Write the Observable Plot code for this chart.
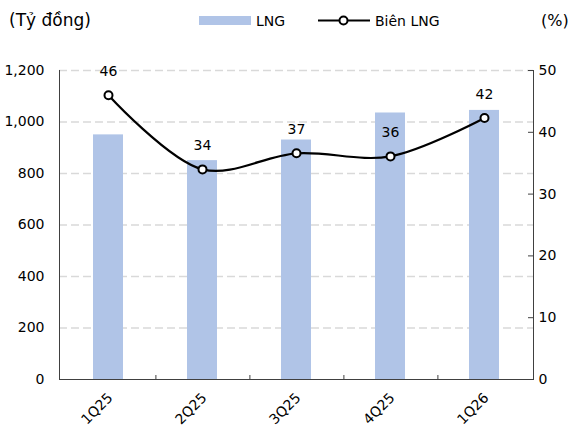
<!DOCTYPE html>
<html>
<head>
<meta charset="utf-8">
<script src="https://cdn.jsdelivr.net/npm/d3@7"></script>
<script src="https://cdn.jsdelivr.net/npm/@observablehq/plot@0.6"></script>
<style>
  body { margin: 0; background: #fff; font-family: "DejaVu Sans", sans-serif; }
  #wrap { position: relative; width: 571px; height: 427px; overflow: hidden; }
  .t { position: absolute; color: #000; white-space: nowrap; line-height: 1; }
  #chart { position: absolute; left: 0; top: 0; }
</style>
</head>
<body>
<div id="wrap">
  <div id="chart"></div>
  <div class="t" style="left:9px;top:12px;font-size:17px;">(Tỷ đồng)</div>
  <div style="position:absolute;left:199px;top:16px;width:52px;height:9px;background:#b0c4e7;"></div>
  <div class="t" style="left:256px;top:14px;font-size:14px;">LNG</div>
  <svg style="position:absolute;left:315px;top:12px;" width="58" height="18">
    <line x1="3" y1="8.5" x2="55" y2="8.5" stroke="#000" stroke-width="2.2"/>
    <circle cx="28.5" cy="8.5" r="4" fill="#fff" stroke="#000" stroke-width="2"/>
  </svg>
  <div class="t" style="left:375px;top:14px;font-size:14px;">Biên LNG</div>
  <div class="t" style="left:541px;top:13px;font-size:16px;">(%)</div>
</div>
<script>
const quarters = ["1Q25", "2Q25", "3Q25", "4Q25", "1Q26"];
const profit = [950, 850, 930, 1035, 1045];      // LNG (tỷ đồng)
const margin = [46.0, 34.0, 36.6, 36.1, 42.3];   // Biên LNG (%)
const leftTicks = [0, 200, 400, 600, 800, 1000, 1200];
const rightTicks = [0, 10, 20, 30, 40, 50];

const leftMax = 1200, rightMax = 50;
const k = leftMax / rightMax;
const data = quarters.map((q, i) => ({q, v: profit[i], m: margin[i]}));
const axisColor = "#404040";
const W = 571, mL = 59, mR = 38;
const step = (W - mL - mR) / quarters.length;

const chart = Plot.plot({
  width: W,
  height: 427,
  marginTop: 70,
  marginBottom: 48,
  marginLeft: mL,
  marginRight: mR,
  style: {fontFamily: "DejaVu Sans, sans-serif", fontSize: "14px", color: "#000", background: "transparent", overflow: "visible"},
  x: {domain: quarters, paddingInner: 0.683, paddingOuter: 0.3415, label: null},
  y: {domain: [0, leftMax], label: null},
  marks: [
    Plot.ruleY(leftTicks.filter(d => d > 0), {stroke: "#d9d9d9", strokeWidth: 1.6, strokeDasharray: "8,4"}),
    Plot.barY(data, {x: "q", y: "v", fill: "#b0c4e7"}),
    Plot.frame({anchor: "left", stroke: axisColor}),
    Plot.frame({anchor: "right", stroke: axisColor}),
    Plot.ruleY([0], {stroke: axisColor, strokeWidth: 1.2}),
    Plot.axisY(leftTicks, {anchor: "left", tickSize: 0, tickPadding: 15, tickFormat: d3.format(","), fontSize: 14, label: null}),
    Plot.axisY(rightTicks.map(d => d * k), {anchor: "left", frameAnchor: "right", tickSize: 5, stroke: axisColor, tickFormat: () => "", label: null}),
    Plot.axisY(rightTicks.map(d => d * k), {anchor: "right", tickSize: 0, tickPadding: 5, tickFormat: d => d / k, fontSize: 14, label: null}),
    Plot.axisX(quarters.slice(0, quarters.length - 1), {anchor: "top", frameAnchor: "bottom", tickSize: 5, dx: step / 2, stroke: axisColor, tickFormat: () => "", label: null}),
    Plot.axisX({anchor: "bottom", tickSize: 0, tickPadding: 16, tickRotate: -45, dx: 2, fontSize: 14, label: null}),
    Plot.line(data, {x: "q", y: d => d.m * k, curve: "catmull-rom", stroke: "#000", strokeWidth: 2.2}),
    Plot.dot(data, {x: "q", y: d => d.m * k, r: 4, fill: "#fff", stroke: "#000", strokeWidth: 2}),
    Plot.text(data, {x: "q", y: d => d.m * k, text: d => d3.format(".0f")(d.m), dy: -24, fontSize: 14, fill: "#000"})
  ]
});
document.getElementById("chart").appendChild(chart);
</script>
</body>
</html>
